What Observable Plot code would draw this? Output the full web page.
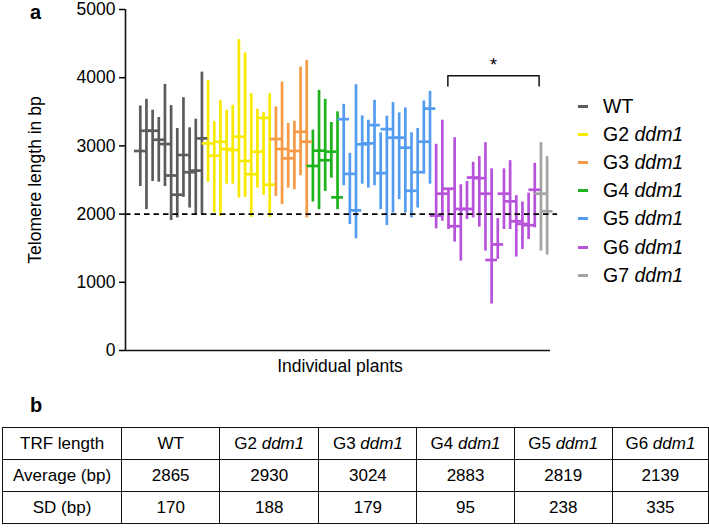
<!DOCTYPE html>
<html>
<head>
<meta charset="utf-8">
<script src="https://cdn.jsdelivr.net/npm/d3@7"></script>
<script src="https://cdn.jsdelivr.net/npm/@observablehq/plot@0.6"></script>
<style>
  body { margin: 0; background: #fff; font-family: "Liberation Sans", Arial, sans-serif; }
  #wrap { position: relative; width: 709px; height: 529px; }
  .panel { position: absolute; font-weight: bold; font-size: 20px; line-height: 20px; }
  #legend { position: absolute; left: 578px; top: 92px; }
  .lrow { height: 28.2px; display: flex; align-items: center; font-size: 19.5px; }
  .lsw { width: 10px; height: 3px; margin-right: 15px; }
  table { position: absolute; left: 2px; top: 427px; border-collapse: collapse; font-size: 17px; }
  td { border: 1.6px solid #111; text-align: center; height: 31px; padding: 0; }
</style>
</head>
<body>
<div id="wrap">
  <div class="panel" style="left:30px; top:2px;">a</div>
  <div id="chart" style="position:absolute; left:0; top:0;"></div>
  <div id="legend"></div>
  <div class="panel" style="left:30px; top:395px;">b</div>
  <table id="tbl"></table>
</div>
<script>
// ---- data ----
const groups = ["WT", "G2", "G3", "G4", "G5", "G6", "G7"];
const groupLabels = ["WT", "G2 <i>ddm1</i>", "G3 <i>ddm1</i>", "G4 <i>ddm1</i>", "G5 <i>ddm1</i>", "G6 <i>ddm1</i>", "G7 <i>ddm1</i>"];
const groupColors = ["#5c5c5c", "#f7ea00", "#f79a45", "#1db31d", "#549cf0", "#b752db", "#a3a3a3"];

const wtMax  = [3586, 3683, 3523, 3416, 3902, 3591, 3256, 3707, 3265, 3392, 4082];
const wtMin  = [2405, 2065, 2478, 2468, 2405, 1905, 1944, 2245, 2089, 2002, 2002];
const wtMean = [2925, 3222, 3222, 3090, 3027, 2566, 2284, 2867, 2614, 2638, 3110];

const g2Max  = [3960, 3353, 3669, 3523, 3596, 4558, 4363, 3766, 3537, 3489, 3766];
const g2Min  = [2464, 2017, 1968, 2439, 2439, 2235, 2245, 1953, 2381, 2274, 1953];
const g2Mean = [3037, 2857, 3061, 2954, 2939, 3134, 2779, 2585, 2915, 3411, 2430];

const g3Max  = [3571, 3936, 3328, 3362, 4155, 4252];
const g3Min  = [2259, 2138, 2381, 2357, 2561, 1944];
const g3Mean = [3100, 2954, 2818, 2925, 3207, 3061];

const g4Max  = [3231, 3814, 3683, 3343, 3499];
const g4Min  = [2177, 2065, 2332, 2527, 2065];
const g4Mean = [2706, 2930, 2790, 2915, 2245];

const g5Max  = [3610, 2891, 3897, 3440, 3377, 3669, 3192, 3435, 3635, 3484, 3557, 3192, 3256, 3659, 3800];
const g5Min  = [2415, 1847, 1637, 2439, 2381, 2415, 2065, 1832, 2017, 2211, 2017, 1944, 2089, 2585, 2439];
const g5Mean = [3392, 2590, 2055, 3023, 3037, 3305, 2600, 3246, 3120, 3120, 2974, 2342, 2614, 3061, 3547];

const g6Max  = [3023, 3377, 2357, 3120, 2430, 2478, 2760, 2843, 3047, 2663, 1934, 2663, 2784, 2270, 2177, 2308, 2745];
const g6Min  = [1783, 1895, 1774, 1589, 1312, 1920, 1944, 1808, 1458, 681, 1337, 1774, 1774, 1370, 1482, 1628, 1798];
const g6Mean = [1978, 2299, 2372, 1822, 2075, 2075, 2536, 2527, 2299, 1327, 1555, 2299, 2187, 1895, 1856, 1837, 2357];

const g7Max  = [3047, 2843];
const g7Min  = [1458, 1399];
const g7Mean = [2299, 2041];

const yTicks = [0, 1000, 2000, 3000, 4000, 5000];
const threshold = 2000;
const sigLabel = "*";
const sigLevels = [3880, 4030];

const tableHeader = ["TRF length", "WT", "G2 <i>ddm1</i>", "G3 <i>ddm1</i>", "G4 <i>ddm1</i>", "G5 <i>ddm1</i>", "G6 <i>ddm1</i>"];
const averages = [2865, 2930, 3024, 2883, 2819, 2139];
const sds = [170, 188, 179, 95, 238, 335];

// ---- build table of plants ----
const series = [
  [wtMin, wtMean, wtMax], [g2Min, g2Mean, g2Max], [g3Min, g3Mean, g3Max],
  [g4Min, g4Mean, g4Max], [g5Min, g5Mean, g5Max], [g6Min, g6Mean, g6Max], [g7Min, g7Mean, g7Max]
];
const plants = [];
series.forEach(([mn, me, mx], gi) => {
  mn.forEach((v, k) => plants.push({ i: plants.length, group: groups[gi], min: v, mean: me[k], max: mx[k] }));
});
const g6 = plants.filter(d => d.group === "G6");
const bx1 = g6[0].i + 1.9, bx2 = g6[g6.length - 1].i + 0.7;

const xDomain = [-2.4, plants.length - 0.45];

const chart = Plot.plot({
  width: 709,
  height: 380,
  marginLeft: 125,
  marginRight: 159,
  marginTop: 9,
  marginBottom: 30,
  style: { fontFamily: "'Liberation Sans', Arial, sans-serif", fontSize: "17px", color: "#000", overflow: "visible" },
  x: { domain: xDomain, axis: null },
  y: { domain: [0, 5000] },
  color: { domain: groups, range: groupColors },
  marks: [
    Plot.axisY({ ticks: yTicks, tickFormat: d => String(d), tickSize: 6, tickPadding: 4, fontSize: 17.5, label: "Telomere length in bp",
      labelAnchor: "center", labelArrow: "none", labelOffset: 97, strokeWidth: 1.5 }),
    Plot.ruleX(plants, { x: "i", y1: "min", y2: "max", stroke: "group", strokeWidth: 2.7 }),
    Plot.ruleY(plants, { y: "mean", x1: d => d.i - 0.95, x2: d => d.i + 0.95, stroke: "group", strokeWidth: 2.7 }),
    Plot.ruleY([threshold], { x1: xDomain[0], x2: plants.length + 0.7, stroke: "#000", strokeWidth: 1.8, strokeDasharray: "5.5,4" }),
    Plot.ruleX([xDomain[0]], { stroke: "#111", strokeWidth: 1.6 }),
    Plot.ruleY([0], { stroke: "#111", strokeWidth: 1.6 }),
    Plot.line([[bx1, sigLevels[0]], [bx1, sigLevels[1]], [bx2, sigLevels[1]], [bx2, sigLevels[0]]],
      { stroke: "#111", strokeWidth: 1.5 }),
    Plot.text([sigLabel], { x: (bx1 + bx2) / 2, y: sigLevels[1], dy: -10, fontSize: 18, fill: "#000" }),
    Plot.text(["Individual plants"], { frameAnchor: "bottom", dx: 2, dy: 21, fontSize: 17.5, fill: "#000" })
  ]
});
document.getElementById("chart").appendChild(chart);

// ---- legend ----
const legend = document.getElementById("legend");
groups.forEach((g, k) => {
  const row = document.createElement("div");
  row.className = "lrow";
  row.innerHTML = `<span class="lsw" style="background:${groupColors[k]}"></span><span>${groupLabels[k]}</span>`;
  legend.appendChild(row);
});

// ---- table ----
const widths = [119, 98, 99, 98, 97, 98, 96];
const tbl = document.getElementById("tbl");
const rows = [tableHeader, ["Average (bp)", ...averages], ["SD (bp)", ...sds]];
rows.forEach(r => {
  const tr = document.createElement("tr");
  r.forEach((c, k) => {
    const td = document.createElement("td");
    td.style.width = widths[k] + "px";
    td.innerHTML = c;
    tr.appendChild(td);
  });
  tbl.appendChild(tr);
});
</script>
</body>
</html>
